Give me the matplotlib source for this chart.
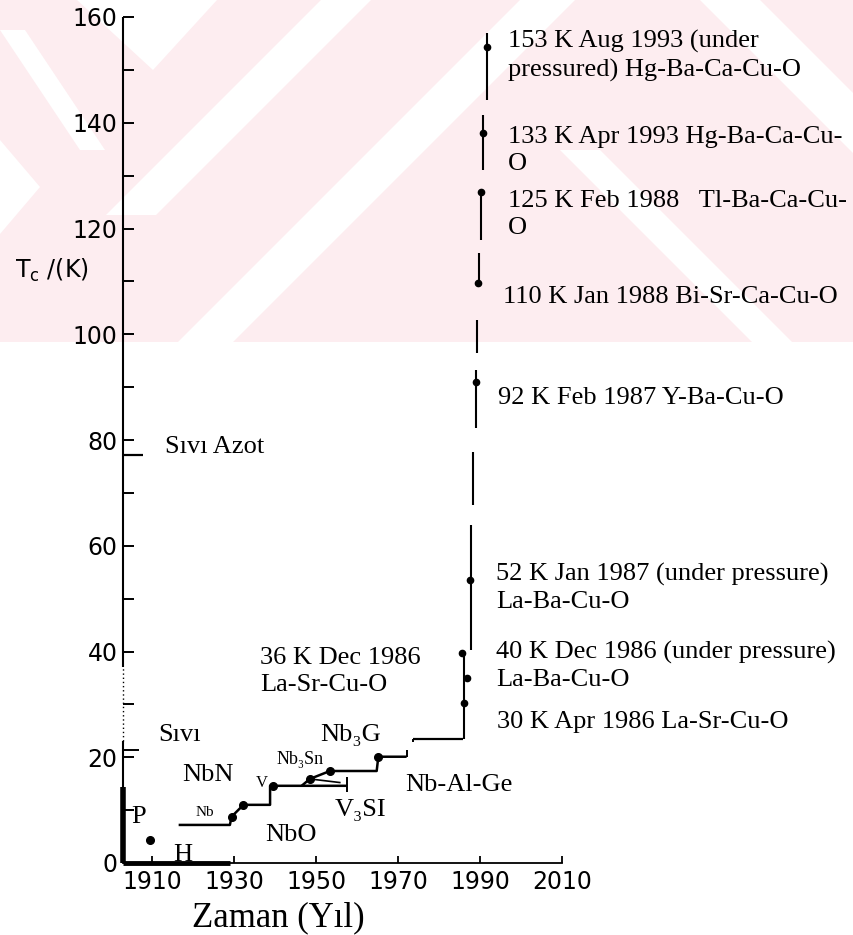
import matplotlib
matplotlib.use("Agg")
import matplotlib.pyplot as plt
from matplotlib.patches import Polygon, Rectangle

# ---- data (year, Tc in K) ----
# conventional superconductors, step line
low_year = [1916.5, 1929.0, 1929.4, 1932.3, 1938.8, 1938.8, 1939.6, 1957.5]
low_tc = [7.2, 7.2, 8.75, 11.0, 11.0, 14.6, 14.6, 14.6]
a15_year = [1946.5, 1948.5, 1953.4, 1964.8, 1965.2, 1972.1]
a15_tc = [14.6, 15.9, 17.4, 17.4, 20.1, 20.1]
v3si_year = [1948.5, 1956.0]
v3si_tc = [15.9, 15.2]
nb3ge_year = [1973.6, 1985.9]
nb3ge_tc = [23.4, 23.4]
low_dot_year = [1909.5, 1929.4, 1932.3, 1939.6, 1948.5, 1953.4, 1965.2]
low_dot_tc = [4.35, 8.75, 11.0, 14.6, 15.9, 17.4, 20.1]

# little end bars (year, Tc low, Tc high)
bar_year = [1957.5, 1972.1, 1973.6]
bar_lo = [13.5, 20.1, 22.8]
bar_hi = [16.3, 21.4, 23.4]

# cuprates: broken vertical pieces + dots
seg_year = [1986.0, 1987.7, 1988.2, 1989.0, 1989.3, 1989.7, 1990.2, 1990.8, 1991.6]
seg_lo = [23.4, 40.3, 67.7, 82.3, 96.4, 109.6, 117.8, 131.0, 144.3]
seg_hi = [40.0, 63.9, 77.7, 93.2, 102.7, 115.4, 126.9, 141.5, 157.0]
hts_dot_year = [1986.0, 1986.8, 1985.5, 1987.6, 1989.0, 1989.5, 1990.2, 1990.8, 1991.6]
hts_dot_tc = [30.2, 34.9, 39.8, 53.5, 91.0, 109.6, 126.9, 138.0, 154.4]

# thick bars along the axes
base_year = [1903.0, 1929.0]
he_tc = [0.0, 14.4]

y_major = [0, 20, 40, 60, 80, 100, 120, 140, 160]
y_minor = [10, 30, 50, 70, 90, 110, 130, 150]
x_ticks = [1910, 1930, 1950, 1970, 1990, 2010]

# labels: (text, year, Tc, size)
labels = [
    ("153 K Aug 1993 (under\npressured) Hg-Ba-Ca-Cu-O", 1996.8, 152.6, 19),
    ("133 K Apr 1993 Hg-Ba-Ca-Cu-\nO", 1996.8, 134.8, 19),
    ("125 K Feb 1988   Tl-Ba-Ca-Cu-\nO", 1996.8, 122.6, 19),
    ("110 K Jan 1988 Bi-Sr-Ca-Cu-O", 1995.6, 107.0, 19),
    ("92 K Feb 1987 Y-Ba-Cu-O", 1994.4, 87.9, 19),
    ("52 K Jan 1987 (under pressure)\nLa-Ba-Cu-O", 1993.9, 52.0, 19),
    ("40 K Dec 1986 (under pressure)\nLa-Ba-Cu-O", 1993.9, 37.2, 19),
    ("30 K Apr 1986 La-Sr-Cu-O", 1994.1, 26.7, 19),
    ("36 K Dec 1986\nLa-Sr-Cu-O", 1936.3, 36.3, 19),
    ("Nb-Al-Ge", 1971.7, 14.75, 19),
    ("Nb\u2083G", 1951.0, 24.2, 19),
    ("S\u0131v\u0131", 1911.5, 24.2, 19),
    ("NbN", 1917.3, 16.6, 19),
    ("P", 1904.9, 8.7, 19),
    ("H", 1915.1, 1.5, 19),
    ("NbO", 1937.6, 5.3, 19),
    ("V\u2083SI", 1954.6, 10.0, 19),
    ("Nb\u2083Sn", 1940.4, 19.6, 13),
    ("Nb", 1920.5, 9.6, 11),
    ("V", 1935.3, 15.2, 12),
    ("S\u0131v\u0131 Azot", 1913.2, 78.7, 19),
]
ln2_tc = 77.1
lh2_tc = 21.3

W, H = 854, 935
fig = plt.figure(figsize=(W / 100, H / 100), dpi=100)
fig.patch.set_facecolor("white")

# faint pink watermark band at the top
bg = fig.add_axes([0, 0, 1, 1], zorder=0)
bg.set_xlim(0, W)
bg.set_ylim(H, 0)
bg.axis("off")
pink = "#fdedf0"
bg.add_patch(Rectangle((0, 0), W, 342, color=pink, lw=0))
white_polys = [
    [(77, 0), (217, 0), (153, 70)],
    [(321, 0), (371, 0), (156, 215), (106, 215)],
    [(0, 140), (40, 187), (0, 234)],
    [(0, 30), (25, 30), (105, 150), (80, 150)],
    [(520, 0), (575, 0), (233, 342), (178, 342)],
    [(560, 150), (600, 150), (792, 342), (752, 342)],
    [(700, 0), (760, 0), (854, 94), (854, 154)],
]
for p in white_polys:
    bg.add_patch(Polygon(p, closed=True, color="white", lw=0))

ax = fig.add_axes([123 / W, (H - 863) / H, (W - 123) / W, 863 / H], zorder=1)
ax.patch.set_alpha(0)
x0 = 1910 + (123 - 152) / 4.1
x1 = 1910 + (W - 152) / 4.1
ax.set_xlim(x0, x1)
ax.set_ylim(0, 863 / 5.2875)

for s in ("top", "right", "left"):
    ax.spines[s].set_visible(False)
ax.spines["bottom"].set_bounds(x0, 2010)
ax.spines["bottom"].set_linewidth(1.3)

# y axis line, dotted where the scan fades
lw_ax = 1.5
ax.plot([x0, x0], [0, 23], color="black", lw=lw_ax, clip_on=False, solid_capstyle="butt")
ax.plot([x0, x0], [23, 37], color="black", lw=1.0, ls=(0, (1, 2)), clip_on=False)
ax.plot([x0, x0], [37, 160], color="black", lw=lw_ax, clip_on=False, solid_capstyle="butt")

ax.set_yticks(y_major)
ax.set_yticks(y_minor, minor=True)
ax.set_xticks(x_ticks)
ax.tick_params(axis="y", which="both", direction="in", length=8, width=1.4,
               pad=4, labelsize=17)
ax.tick_params(axis="x", which="both", direction="in", length=5, width=1.3,
               pad=5, labelsize=17)
for t in ax.get_xticklabels() + ax.get_yticklabels():
    t.set_family("DejaVu Sans")

k = dict(color="black", clip_on=False, solid_capstyle="butt")
# thick bars
ax.plot(base_year, [0, 0], lw=3.5, **k)
ax.plot([x0, x0], he_tc, lw=4, **k)
# liquid nitrogen / hydrogen marks
ax.plot([x0, x0 + 4.9], [ln2_tc, ln2_tc], lw=1.6, **k)
ax.plot([x0, x0 + 4.0], [lh2_tc, lh2_tc], lw=1.4, **k)

# step lines
ax.plot(low_year, low_tc, lw=1.8, **k)
ax.plot(a15_year, a15_tc, lw=1.8, **k)
ax.plot(v3si_year, v3si_tc, lw=1.2, **k)
ax.plot(nb3ge_year, nb3ge_tc, lw=1.6, **k)
ax.vlines(bar_year, bar_lo, bar_hi, color="black", lw=1.4)
ax.vlines(seg_year, seg_lo, seg_hi, color="black", lw=1.5)
ax.plot(low_dot_year, low_dot_tc, "o", color="black", ms=5.5, clip_on=False)
ax.plot(hts_dot_year, hts_dot_tc, "o", color="black", ms=4.5, clip_on=False)

serif = ["Liberation Serif", "DejaVu Serif"]
for txt, xx, yy, fs in labels:
    ax.text(xx, yy, txt, fontsize=fs, family=serif, ha="left", va="center",
            linespacing=1.3, clip_on=False)

fig.text(15 / W, 1 - 270 / H, r"T$_\mathregular{c}$ /(K)", fontsize=17,
         family="DejaVu Sans", ha="left", va="center")
fig.text(278 / W, 1 - 918 / H, "Zaman (Y\u0131l)", fontsize=25, family=serif,
         ha="center", va="center")

fig.savefig("out.png", dpi=100)
